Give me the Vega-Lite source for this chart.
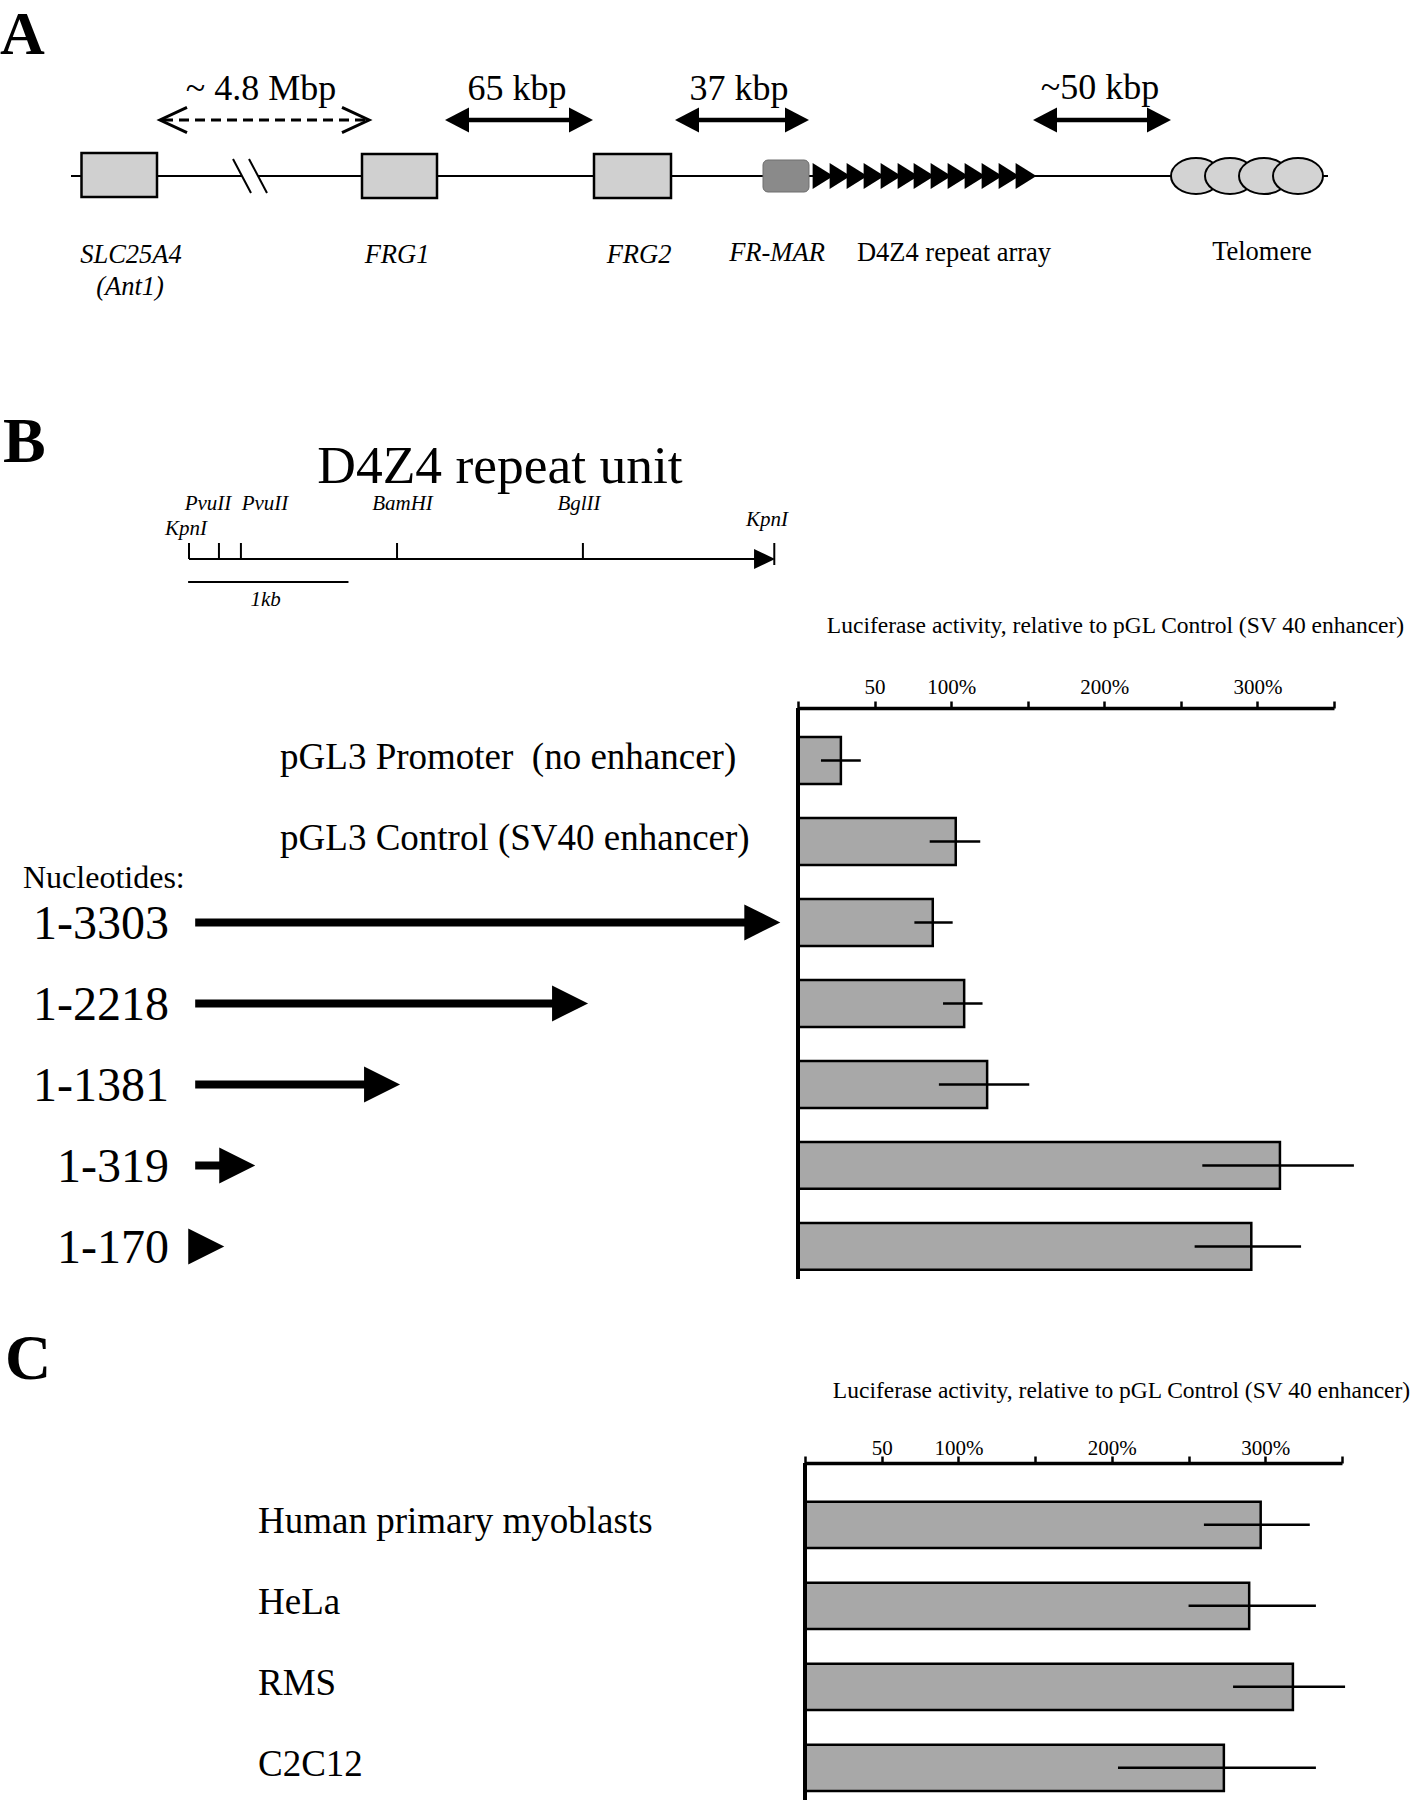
{
  "$schema": "https://vega.github.io/schema/vega-lite/v6.json",
  "padding": 0,
  "background": "white",
  "spacing": 0,
  "bounds": "flush",
  "config": {
    "view": {"stroke": null},
    "text": {"font": "Liberation Serif", "color": "black"},
    "axis": {"labelFont": "Liberation Serif", "titleFont": "Liberation Serif"}
  },
  "datasets": {
    "b_data": [
      {"row": "pGL3 Promoter \u00a0(no enhancer)", "kind": "vector", "activity": 28, "err_lo": 15, "err_hi": 41},
      {"row": "pGL3 Control (SV40 enhancer)", "kind": "vector", "activity": 103, "err_lo": 86, "err_hi": 119},
      {"row": "1-3303", "kind": "construct", "start": 1, "end_nt": 3303, "activity": 88, "err_lo": 76, "err_hi": 101},
      {"row": "1-2218", "kind": "construct", "start": 1, "end_nt": 2218, "activity": 108.5, "err_lo": 94.7, "err_hi": 120.5},
      {"row": "1-1381", "kind": "construct", "start": 1, "end_nt": 1157, "activity": 123.5, "err_lo": 92, "err_hi": 151},
      {"row": "1-319", "kind": "construct", "start": 1, "end_nt": 340, "activity": 314.7, "err_lo": 264, "err_hi": 363},
      {"row": "1-170", "kind": "construct", "start": 1, "end_nt": 165, "activity": 296, "err_lo": 259, "err_hi": 328.5}
    ],
    "c_data": [
      {"cell": "Human primary myoblasts", "activity": 297, "err_lo": 260, "err_hi": 329},
      {"cell": "HeLa", "activity": 289.5, "err_lo": 250, "err_hi": 333},
      {"cell": "RMS", "activity": 318, "err_lo": 279, "err_hi": 352},
      {"cell": "C2C12", "activity": 273, "err_lo": 204, "err_hi": 333}
    ]
  },
  "vconcat": [
    {
      "width": 1421,
      "height": 380,
      "encoding": {
        "x": {"field": "x", "type": "quantitative", "scale": {"domain": [0, 142.1], "nice": false, "zero": false}, "axis": null},
        "y": {"field": "y", "type": "quantitative", "scale": {"domain": [0, 38], "nice": false, "zero": false, "reverse": true}, "axis": null}
      },
      "layer": [
        {
          "data": {"values": [
            {"part": "chromosome", "x": 7.1, "x2": 24.2, "y": 17.6, "y2": 17.6},
            {"part": "chromosome", "x": 25.8, "x2": 132.8, "y": 17.6, "y2": 17.6},
            {"part": "break", "x": 23.3, "x2": 25.1, "y": 15.9, "y2": 19.3},
            {"part": "break", "x": 24.9, "x2": 26.7, "y": 15.9, "y2": 19.3}
          ]},
          "mark": {"type": "rule", "color": "black", "strokeWidth": 2},
          "encoding": {"x2": {"field": "x2"}, "y2": {"field": "y2"}}
        },
        {
          "data": {"values": [
            {"gene": "SLC25A4", "x": 8.15, "x2": 15.7, "y": 15.3, "y2": 19.7},
            {"gene": "FRG1", "x": 36.2, "x2": 43.7, "y": 15.4, "y2": 19.8},
            {"gene": "FRG2", "x": 59.4, "x2": 67.1, "y": 15.4, "y2": 19.8}
          ]},
          "mark": {"type": "rect", "fill": "#d0d0d0", "stroke": "black", "strokeWidth": 2.5},
          "encoding": {"x2": {"field": "x2"}, "y2": {"field": "y2"}}
        },
        {
          "data": {"values": [{"element": "FR-MAR", "x": 76.3, "x2": 80.9, "y": 16.0, "y2": 19.2}]},
          "mark": {"type": "rect", "fill": "#8a8a8a", "stroke": "#6e6e6e", "strokeWidth": 1, "cornerRadius": 5},
          "encoding": {"x2": {"field": "x2"}, "y2": {"field": "y2"}}
        },
        {
          "data": {"values": [
            {"unit": 1, "x": 82.3, "y": 17.6}, {"unit": 2, "x": 84.0, "y": 17.6}, {"unit": 3, "x": 85.7, "y": 17.6},
            {"unit": 4, "x": 87.4, "y": 17.6}, {"unit": 5, "x": 89.1, "y": 17.6}, {"unit": 6, "x": 90.8, "y": 17.6},
            {"unit": 7, "x": 92.4, "y": 17.6}, {"unit": 8, "x": 94.1, "y": 17.6}, {"unit": 9, "x": 95.8, "y": 17.6},
            {"unit": 10, "x": 97.5, "y": 17.6}, {"unit": 11, "x": 99.2, "y": 17.6}, {"unit": 12, "x": 100.9, "y": 17.6},
            {"unit": 13, "x": 102.6, "y": 17.6}
          ]},
          "mark": {"type": "point", "shape": "M0.8,0L-0.8,-1L-0.8,1Z", "size": 676, "filled": true, "color": "black", "opacity": 1, "strokeWidth": 0}
        },
        {
          "data": {"values": [
            {"repeat": 1, "x": 119.6, "y": 17.6}, {"repeat": 2, "x": 123.0, "y": 17.6},
            {"repeat": 3, "x": 126.4, "y": 17.6}, {"repeat": 4, "x": 129.8, "y": 17.6}
          ]},
          "mark": {"type": "point", "shape": "M-1,0C-1,-0.4,-0.55,-0.72,0,-0.72C0.55,-0.72,1,-0.4,1,0C1,0.4,0.55,0.72,0,0.72C-0.55,0.72,-1,0.4,-1,0Z", "size": 2500, "filled": true, "fill": "#d3d3d3", "stroke": "black", "strokeWidth": 2, "opacity": 1}
        },
        {
          "data": {"values": [{"span": "~ 4.8 Mbp", "x": 16.3, "x2": 36.6, "y": 12.0, "y2": 12.0}]},
          "mark": {"type": "rule", "color": "black", "strokeWidth": 3, "strokeDash": [10, 6]},
          "encoding": {"x2": {"field": "x2"}, "y2": {"field": "y2"}}
        },
        {
          "data": {"values": [
            {"span": "65 kbp", "x": 45.7, "x2": 58.1, "y": 12.0, "y2": 12.0},
            {"span": "37 kbp", "x": 68.7, "x2": 79.7, "y": 12.0, "y2": 12.0},
            {"span": "~50 kbp", "x": 104.5, "x2": 115.9, "y": 12.0, "y2": 12.0}
          ]},
          "mark": {"type": "rule", "color": "black", "strokeWidth": 4.5},
          "encoding": {"x2": {"field": "x2"}, "y2": {"field": "y2"}}
        },
        {
          "data": {"values": [{"x": 45.7, "y": 12.0}, {"x": 68.7, "y": 12.0}, {"x": 104.5, "y": 12.0}]},
          "mark": {"type": "point", "shape": "M-1,0L1,-1.04L1,1.04Z", "size": 576, "filled": true, "color": "black", "opacity": 1, "strokeWidth": 0}
        },
        {
          "data": {"values": [{"x": 58.1, "y": 12.0}, {"x": 79.7, "y": 12.0}, {"x": 115.9, "y": 12.0}]},
          "mark": {"type": "point", "shape": "M1,0L-1,-1.04L-1,1.04Z", "size": 576, "filled": true, "color": "black", "opacity": 1, "strokeWidth": 0}
        },
        {
          "data": {"values": [{"x": 17.35, "y": 12.0}]},
          "mark": {"type": "point", "shape": "M1,-0.93L-1,0L1,0.93", "size": 729, "filled": false, "stroke": "black", "strokeWidth": 3, "opacity": 1}
        },
        {
          "data": {"values": [{"x": 35.55, "y": 12.0}]},
          "mark": {"type": "point", "shape": "M-1,-0.93L1,0L-1,0.93", "size": 729, "filled": false, "stroke": "black", "strokeWidth": 3, "opacity": 1}
        },
        {
          "data": {"values": [
            {"text": "~ 4.8 Mbp", "x": 26.1, "y": 10.0},
            {"text": "65 kbp", "x": 51.7, "y": 10.0},
            {"text": "37 kbp", "x": 73.9, "y": 10.0},
            {"text": "~50 kbp", "x": 110.0, "y": 9.9}
          ]},
          "mark": {"type": "text", "align": "center", "baseline": "alphabetic", "fontSize": 36},
          "encoding": {"text": {"field": "text"}}
        },
        {
          "data": {"values": [
            {"text": "SLC25A4", "x": 13.1, "y": 26.3},
            {"text": "(Ant1)", "x": 13.0, "y": 29.5},
            {"text": "FRG1", "x": 39.7, "y": 26.3},
            {"text": "FRG2", "x": 63.9, "y": 26.3},
            {"text": "FR-MAR", "x": 77.7, "y": 26.1}
          ]},
          "mark": {"type": "text", "align": "center", "baseline": "alphabetic", "fontSize": 26.5, "fontStyle": "italic"},
          "encoding": {"text": {"field": "text"}}
        },
        {
          "data": {"values": [
            {"text": "D4Z4 repeat array", "x": 95.4, "y": 26.1},
            {"text": "Telomere", "x": 126.2, "y": 26.0}
          ]},
          "mark": {"type": "text", "align": "center", "baseline": "alphabetic", "fontSize": 26.5},
          "encoding": {"text": {"field": "text"}}
        },
        {
          "data": {"values": [{"text": "A", "x": 0, "y": 5.4}]},
          "mark": {"type": "text", "align": "left", "baseline": "alphabetic", "fontSize": 62, "fontWeight": "bold"},
          "encoding": {"text": {"field": "text"}}
        }
      ]
    },
    {
      "width": 800,
      "height": 328,
      "encoding": {
        "x": {"field": "x", "type": "quantitative", "scale": {"domain": [-1066.6, 3448.1], "nice": false, "zero": false}, "axis": null},
        "y": {"field": "y", "type": "quantitative", "scale": {"domain": [0, 32.8], "nice": false, "zero": false, "reverse": true}, "axis": null}
      },
      "layer": [
        {
          "data": {"values": [{"text": "B", "x": -1050, "y": 8.2}]},
          "mark": {"type": "text", "align": "left", "baseline": "alphabetic", "fontSize": 64, "fontWeight": "bold"},
          "encoding": {"text": {"field": "text"}}
        },
        {
          "data": {"values": [{"text": "D4Z4 repeat unit", "x": 1755, "y": 10.25}]},
          "mark": {"type": "text", "align": "center", "baseline": "alphabetic", "fontSize": 53.5},
          "encoding": {"text": {"field": "text"}}
        },
        {
          "data": {"values": [
            {"segment": "repeat unit", "x": 0, "x2": 3250, "y": 17.9, "y2": 17.9},
            {"segment": "1 kb scale", "x": -5, "x2": 900, "y": 20.2, "y2": 20.2}
          ]},
          "mark": {"type": "rule", "color": "black", "strokeWidth": 2.2},
          "encoding": {"x2": {"field": "x2"}, "y2": {"field": "y2"}}
        },
        {
          "data": {"values": [
            {"site": "KpnI", "x": 0, "y": 16.3, "y2": 17.9},
            {"site": "PvuII", "x": 169, "y": 16.3, "y2": 17.9},
            {"site": "PvuII", "x": 293, "y": 16.3, "y2": 17.9},
            {"site": "BamHI", "x": 1174, "y": 16.3, "y2": 17.9},
            {"site": "BglII", "x": 2223, "y": 16.3, "y2": 17.9},
            {"site": "KpnI", "x": 3303, "y": 16.3, "y2": 18.5}
          ]},
          "mark": {"type": "rule", "color": "black", "strokeWidth": 2},
          "encoding": {"y2": {"field": "y2"}}
        },
        {
          "data": {"values": [{"x": 3248, "y": 17.9}]},
          "mark": {"type": "point", "shape": "M1,0L-1,-0.95L-1,0.95Z", "size": 441, "filled": true, "color": "black", "opacity": 1, "strokeWidth": 0}
        },
        {
          "data": {"values": [
            {"text": "KpnI", "x": -17, "y": 15.5},
            {"text": "PvuII", "x": 107, "y": 13.0},
            {"text": "PvuII", "x": 429, "y": 13.0},
            {"text": "BamHI", "x": 1205, "y": 13.0},
            {"text": "BglII", "x": 2201, "y": 13.0},
            {"text": "KpnI", "x": 3262, "y": 14.6},
            {"text": "1kb", "x": 432, "y": 22.6}
          ]},
          "mark": {"type": "text", "align": "center", "baseline": "alphabetic", "fontSize": 21, "fontStyle": "italic"},
          "encoding": {"text": {"field": "text"}}
        }
      ]
    },
    {
      "width": 1334,
      "height": 571,
      "data": {"name": "b_data"},
      "resolve": {"scale": {"x": "independent"}, "axis": {"x": "independent"}},
      "layer": [
        {
          "layer": [
            {
              "transform": [{"filter": "datum.kind == 'vector'"}],
              "mark": {"type": "text", "align": "left", "baseline": "alphabetic", "fontSize": 37, "dy": 9},
              "encoding": {
                "x": {"datum": 480, "type": "quantitative", "scale": {"domain": [-1100.5, 3402.8], "range": [0, 798], "nice": false, "zero": false}, "axis": null},
                "y": {"field": "row", "type": "nominal", "sort": null, "axis": null, "scale": {"type": "band", "domain": ["pGL3 Promoter \u00a0(no enhancer)", "pGL3 Control (SV40 enhancer)", "1-3303", "1-2218", "1-1381", "1-319", "1-170"], "paddingInner": 0.42, "paddingOuter": 0.235, "align": 0.76}},
                "text": {"field": "row"}
              }
            },
            {
              "transform": [{"filter": "datum.kind == 'construct'"}],
              "mark": {"type": "text", "align": "right", "baseline": "alphabetic", "fontSize": 48, "dx": -26, "dy": 17},
              "encoding": {
                "x": {"datum": 0, "type": "quantitative", "scale": {"domain": [-1100.5, 3402.8], "range": [0, 798], "nice": false, "zero": false}, "axis": null},
                "y": {"field": "row", "type": "nominal", "sort": null, "axis": null, "scale": {"type": "band", "domain": ["pGL3 Promoter \u00a0(no enhancer)", "pGL3 Control (SV40 enhancer)", "1-3303", "1-2218", "1-1381", "1-319", "1-170"], "paddingInner": 0.42, "paddingOuter": 0.235, "align": 0.76}},
                "text": {"field": "row"}
              }
            },
            {
              "data": {"values": [{"row": "1-3303", "text": "Nucleotides:"}]},
              "mark": {"type": "text", "align": "left", "baseline": "alphabetic", "fontSize": 32, "dx": -172, "dy": -34},
              "encoding": {
                "x": {"datum": 0, "type": "quantitative", "scale": {"domain": [-1100.5, 3402.8], "range": [0, 798], "nice": false, "zero": false}, "axis": null},
                "y": {"field": "row", "type": "nominal", "sort": null, "axis": null, "scale": {"type": "band", "domain": ["pGL3 Promoter \u00a0(no enhancer)", "pGL3 Control (SV40 enhancer)", "1-3303", "1-2218", "1-1381", "1-319", "1-170"], "paddingInner": 0.42, "paddingOuter": 0.235, "align": 0.76}},
                "text": {"field": "text"}
              }
            },
            {
              "transform": [{"filter": "datum.kind == 'construct'"}],
              "mark": {"type": "rule", "color": "black", "strokeWidth": 8, "strokeCap": "butt", "x2Offset": -20},
              "encoding": {
                "x": {"field": "start", "type": "quantitative", "scale": {"domain": [-1100.5, 3402.8], "range": [0, 798], "nice": false, "zero": false}, "axis": null},
                "x2": {"field": "end_nt"},
                "y": {"field": "row", "type": "nominal", "sort": null, "axis": null, "scale": {"type": "band", "domain": ["pGL3 Promoter \u00a0(no enhancer)", "pGL3 Control (SV40 enhancer)", "1-3303", "1-2218", "1-1381", "1-319", "1-170"], "paddingInner": 0.42, "paddingOuter": 0.235, "align": 0.76}}
              }
            },
            {
              "transform": [{"filter": "datum.kind == 'construct'"}],
              "mark": {"type": "point", "shape": "M1,0L-1,-1L-1,1Z", "size": 1296, "filled": true, "color": "black", "opacity": 1, "strokeWidth": 0, "xOffset": -18},
              "encoding": {
                "x": {"field": "end_nt", "type": "quantitative", "scale": {"domain": [-1100.5, 3402.8], "range": [0, 798], "nice": false, "zero": false}, "axis": null},
                "y": {"field": "row", "type": "nominal", "sort": null, "axis": null, "scale": {"type": "band", "domain": ["pGL3 Promoter \u00a0(no enhancer)", "pGL3 Control (SV40 enhancer)", "1-3303", "1-2218", "1-1381", "1-319", "1-170"], "paddingInner": 0.42, "paddingOuter": 0.235, "align": 0.76}}
              }
            }
          ]
        },
        {
          "layer": [
            {
              "mark": {"type": "bar", "fill": "#a8a8a8", "stroke": "black", "strokeWidth": 2.5},
              "encoding": {
                "x": {"field": "activity", "type": "quantitative", "title": "Luciferase activity, relative to pGL Control (SV 40 enhancer)",
                      "scale": {"domain": [0, 350], "range": [798, 1334], "nice": false, "zero": true},
                      "axis": {"orient": "top", "values": [0, 50, 100, 150, 200, 250, 300, 350],
                               "labelExpr": "datum.value == 50 ? '50' : (datum.value == 100 || datum.value == 200 || datum.value == 300) ? datum.value + '%' : ''",
                               "grid": false, "domainColor": "black", "domainWidth": 3.5, "tickColor": "black", "tickWidth": 2.5, "tickSize": 7,
                               "labelFontSize": 21, "labelColor": "black", "labelPadding": 8, "labelBaseline": "alphabetic",
                               "labelOverlap": false, "labelFlush": false, "labelBound": false,
                               "titleFontSize": 23.5, "titleFontWeight": "normal", "titleColor": "black", "titleX": 1115, "titleY": -76,
                               "titleAlign": "center", "titleBaseline": "alphabetic", "titleLimit": 1000, "zindex": 1}},
                "y": {"field": "row", "type": "nominal", "sort": null, "axis": null, "scale": {"type": "band", "domain": ["pGL3 Promoter \u00a0(no enhancer)", "pGL3 Control (SV40 enhancer)", "1-3303", "1-2218", "1-1381", "1-319", "1-170"], "paddingInner": 0.42, "paddingOuter": 0.235, "align": 0.76}}
              }
            },
            {
              "mark": {"type": "rule", "color": "black", "strokeWidth": 2.5},
              "encoding": {
                "x": {"field": "err_lo", "type": "quantitative", "title": "Luciferase activity, relative to pGL Control (SV 40 enhancer)"},
                "x2": {"field": "err_hi"},
                "y": {"field": "row", "type": "nominal", "sort": null, "axis": null, "scale": {"type": "band", "domain": ["pGL3 Promoter \u00a0(no enhancer)", "pGL3 Control (SV40 enhancer)", "1-3303", "1-2218", "1-1381", "1-319", "1-170"], "paddingInner": 0.42, "paddingOuter": 0.235, "align": 0.76}}
              }
            },
            {
              "data": {"values": [{"activity": 0}]},
              "mark": {"type": "rule", "color": "black", "strokeWidth": 4},
              "encoding": {
                "x": {"field": "activity", "type": "quantitative", "title": "Luciferase activity, relative to pGL Control (SV 40 enhancer)"}
              }
            }
          ]
        }
      ]
    },
    {
      "width": 805,
      "height": 184,
      "data": {"values": [{"text": "C", "x": 0.5, "y": 10.0}]},
      "mark": {"type": "text", "align": "left", "baseline": "alphabetic", "fontSize": 64, "fontWeight": "bold"},
      "encoding": {
        "x": {"field": "x", "type": "quantitative", "scale": {"domain": [0, 80.5], "nice": false, "zero": false}, "axis": null},
        "y": {"field": "y", "type": "quantitative", "scale": {"domain": [0, 18.4], "nice": false, "zero": false, "reverse": true}, "axis": null},
        "text": {"field": "text"}
      }
    },
    {
      "width": 1342,
      "height": 337,
      "data": {"name": "c_data"},
      "resolve": {"scale": {"x": "independent"}, "axis": {"x": "independent"}},
      "layer": [
        {
          "mark": {"type": "text", "align": "left", "baseline": "alphabetic", "fontSize": 37, "dy": 8},
          "encoding": {
            "x": {"datum": 25.8, "type": "quantitative", "scale": {"domain": [0, 80.5], "range": [0, 805], "nice": false, "zero": false}, "axis": null},
            "y": {"field": "cell", "type": "nominal", "sort": null, "axis": null, "scale": {"type": "band", "domain": ["Human primary myoblasts", "HeLa", "RMS", "C2C12"], "paddingInner": 0.43, "paddingOuter": 0.295, "align": 0.81}},
            "text": {"field": "cell"}
          }
        },
        {
          "layer": [
            {
              "mark": {"type": "bar", "fill": "#a8a8a8", "stroke": "black", "strokeWidth": 2.5},
              "encoding": {
                "x": {"field": "activity", "type": "quantitative", "title": "Luciferase activity, relative to pGL Control (SV 40 enhancer)",
                      "scale": {"domain": [0, 350], "range": [805, 1342], "nice": false, "zero": true},
                      "axis": {"orient": "top", "values": [0, 50, 100, 150, 200, 250, 300, 350],
                               "labelExpr": "datum.value == 50 ? '50' : (datum.value == 100 || datum.value == 200 || datum.value == 300) ? datum.value + '%' : ''",
                               "grid": false, "domainColor": "black", "domainWidth": 3.5, "tickColor": "black", "tickWidth": 2.5, "tickSize": 7,
                               "labelFontSize": 21, "labelColor": "black", "labelPadding": 2, "labelBaseline": "alphabetic",
                               "labelOverlap": false, "labelFlush": false, "labelBound": false,
                               "titleFontSize": 23.5, "titleFontWeight": "normal", "titleColor": "black", "titleX": 1121, "titleY": -66,
                               "titleAlign": "center", "titleBaseline": "alphabetic", "titleLimit": 1000, "zindex": 1}},
                "y": {"field": "cell", "type": "nominal", "sort": null, "axis": null, "scale": {"type": "band", "domain": ["Human primary myoblasts", "HeLa", "RMS", "C2C12"], "paddingInner": 0.43, "paddingOuter": 0.295, "align": 0.81}}
              }
            },
            {
              "mark": {"type": "rule", "color": "black", "strokeWidth": 2.5},
              "encoding": {
                "x": {"field": "err_lo", "type": "quantitative", "title": "Luciferase activity, relative to pGL Control (SV 40 enhancer)"},
                "x2": {"field": "err_hi"},
                "y": {"field": "cell", "type": "nominal", "sort": null, "axis": null, "scale": {"type": "band", "domain": ["Human primary myoblasts", "HeLa", "RMS", "C2C12"], "paddingInner": 0.43, "paddingOuter": 0.295, "align": 0.81}}
              }
            },
            {
              "data": {"values": [{"activity": 0}]},
              "mark": {"type": "rule", "color": "black", "strokeWidth": 4},
              "encoding": {
                "x": {"field": "activity", "type": "quantitative", "title": "Luciferase activity, relative to pGL Control (SV 40 enhancer)"}
              }
            }
          ]
        }
      ]
    }
  ]
}
